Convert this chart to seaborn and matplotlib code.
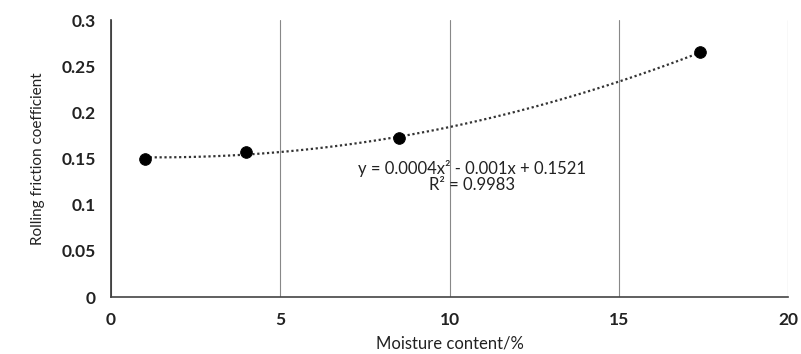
import numpy as np
import pandas as pd
import matplotlib
matplotlib.use('Agg')
import matplotlib.pyplot as plt
import seaborn as sns

moisture = [1.0, 4.0, 8.5, 17.4]
friction = [0.150, 0.157, 0.172, 0.265]
x_ticks = [0, 5, 10, 15, 20]
y_ticks = [0, 0.05, 0.1, 0.15, 0.2, 0.25, 0.3]
y_tick_labels = ['0', '0.05', '0.1', '0.15', '0.2', '0.25', '0.3']

df = pd.DataFrame({'moisture': moisture, 'friction': friction})

sns.set_style('white')
plt.rcParams['font.family'] = ['Lato', 'DejaVu Sans']

fig = plt.figure(figsize=(8.01, 3.54), dpi=100)
ax = fig.add_axes([0.1386, 0.161, 0.8452, 0.7825])

# polynomial trendline (order 2) through the points
sns.regplot(data=df, x='moisture', y='friction', order=2, ci=None,
            scatter=False, ax=ax,
            line_kws={'color': '#333333', 'lw': 1.6, 'ls': (0, (1, 1.2))})
sns.scatterplot(data=df, x='moisture', y='friction', ax=ax, s=70,
                color='black', edgecolor='black', zorder=5)

ax.set_xlim(0, 20)
ax.set_ylim(0, 0.3)
ax.set_xticks(x_ticks)
ax.set_yticks(y_ticks)
ax.set_yticklabels(y_tick_labels)
ax.tick_params(axis='both', length=0, labelsize=12.5, colors='#222222', pad=11)
for lab in ax.get_xticklabels() + ax.get_yticklabels():
    lab.set_fontweight('bold')
ax.xaxis.grid(True, color='#888888', lw=0.8)
ax.yaxis.grid(False)
for s in ['top', 'right']:
    ax.spines[s].set_visible(False)
ax.spines['left'].set_color('#333333')
ax.spines['bottom'].set_color('#444444')
ax.spines['left'].set_linewidth(1.2)
ax.spines['bottom'].set_linewidth(1.2)

ax.set_xlabel('Moisture content/%', fontsize=12, color='#222222', labelpad=5)
ax.set_ylabel('Rolling friction coefficient', fontsize=11, color='#222222', labelpad=12)

ax.text(10.67, 0.139, 'y = 0.0004x² - 0.001x + 0.1521', ha='center', va='center',
        fontsize=12, color='#222222')
ax.text(10.67, 0.121, 'R² = 0.9983', ha='center', va='center',
        fontsize=12, color='#222222')

fig.savefig('out.png', dpi=100)
